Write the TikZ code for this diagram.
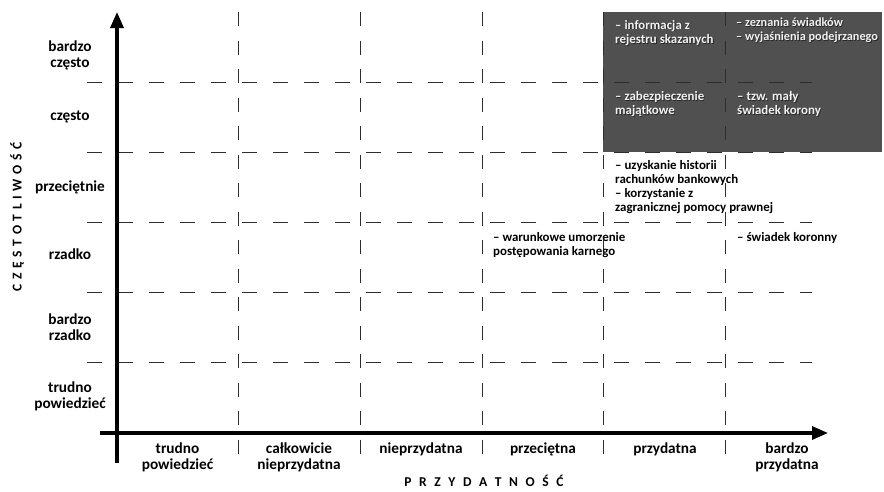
\documentclass[tikz,border=0pt]{standalone}
\usepackage{fontspec}
\setmainfont{Carlito}
\usetikzlibrary{arrows.meta}
\definecolor{darkbox}{RGB}{80,80,80}
\definecolor{gridc}{RGB}{45,45,45}
\definecolor{boxtext}{RGB}{242,242,242}
\newcommand{\lsX}{\hspace{7.6pt}}
\newcommand{\lsY}{\hspace{4.6pt}}
\newcommand{\linesL}[1]{\begin{tabular}[t]{@{}l@{}}#1\end{tabular}}
\newcommand{\linesC}[1]{\begin{tabular}[t]{@{}c@{}}#1\end{tabular}}
\begin{document}
\begin{tikzpicture}[x=1pt,y=-1pt,
  gridline/.style={draw=gridc, line width=0.95pt},
  hgrid/.style={gridline, dash pattern=on 15pt off 16pt},
  vgrid/.style={gridline, dash pattern=on 14pt off 14.5pt},
  axisline/.style={line width=3.2pt, -{Triangle[length=16pt,width=13pt]}},
  axlab/.style={font=\bfseries\fontsize{15.3}{16.8}\selectfont, inner sep=0pt, anchor=base},
  titlelab/.style={font=\bfseries\fontsize{13.5}{15}\selectfont, inner sep=0pt},
  itemtxt/.style={font=\bfseries\fontsize{12.9}{14.2}\selectfont, inner sep=0pt, anchor=base west},
  narrowtxt/.style={font=\bfseries\fontsize{12.3}{14}\selectfont},
  boxtxt/.style={itemtxt, text=boxtext},
  boxshadow/.style={itemtxt, text=black!85},
]
\useasboundingbox (0,0) rectangle (884,491);

% dark highlighted area
\fill[darkbox] (603,12) rectangle (882,151.5);

% grid coordinates
\foreach \y [count=\i] in {82,152,222,292,362} {
  \coordinate (hl\i) at (87,\y);
  \coordinate (hr\i) at (812,\y);
}
\foreach \x [count=\i] in {238.7,360.4,482.1,603.8,725.5} {
  \coordinate (vt\i) at (\x,12);
  \coordinate (vb\i) at (\x,454);
}
\foreach \i in {1,...,5} {
  \draw[hgrid] (hl\i) -- (hr\i);
  \draw[vgrid] (vt\i) -- (vb\i);
}

% axes
\coordinate (xs) at (100,433);
\coordinate (xe) at (828,433);
\coordinate (ys) at (117,463);
\coordinate (ye) at (117,12);
\draw[axisline] (xs) -- (xe);
\draw[axisline] (ys) -- (ye);

% row labels
\node[axlab] (r1) at (70,51) {\linesC{bardzo\\często}};
\node[axlab] (r2) at (70,120.5) {często};
\node[axlab] (r3) at (70,191) {przeciętnie};
\node[axlab] (r4) at (70,259.5) {rzadko};
\node[axlab] (r5) at (70,324) {\linesC{bardzo\\rzadko}};
\node[axlab] (r6) at (70,392) {\linesC{trudno\\powiedzieć}};

% column labels
\node[axlab] (c1) at (177.5,453) {\linesC{trudno\\powiedzieć}};
\node[axlab] (c2) at (299,453) {\linesC{całkowicie\\nieprzydatna}};
\node[axlab] (c3) at (421,453) {nieprzydatna};
\node[axlab] (c4) at (543,453) {przeciętna};
\node[axlab] (c5) at (665,453) {przydatna};
\node[axlab] (c6) at (787,453) {\linesC{bardzo\\przydatna}};

% axis titles
\node[titlelab, anchor=base] (xt) at (484,486) {P\lsX R\lsX Z\lsX Y\lsX D\lsX A\lsX T\lsX N\lsX O\lsX Ś\lsX Ć};
\node[titlelab, rotate=90, anchor=center] (yt) at (17,217) {C\lsY Z\lsY Ę\lsY S\lsY T\lsY O\lsY T\lsY L\lsY I\lsY W\lsY O\lsY Ś\lsY Ć};

% items in dark area (with shadow)
\node[boxshadow] (s1) at (615.8,29.8) {\linesL{– informacja z\\rejestru skazanych}};
\node[boxtxt] (t1) at (615,29) {\linesL{– informacja z\\rejestru skazanych}};
\node[boxshadow, narrowtxt] (s2) at (736.8,27.3) {\linesL{– zeznania świadków\\– wyjaśnienia podejrzanego}};
\node[boxtxt, narrowtxt] (t2) at (736,26.5) {\linesL{– zeznania świadków\\– wyjaśnienia podejrzanego}};
\node[boxshadow] (s3) at (615.8,101.3) {\linesL{– zabezpieczenie\\majątkowe}};
\node[boxtxt] (t3) at (615,100.5) {\linesL{– zabezpieczenie\\majątkowe}};
\node[boxshadow] (s4) at (737.8,101.3) {\linesL{– tzw. mały\\świadek korony}};
\node[boxtxt] (t4) at (737,100.5) {\linesL{– tzw. mały\\świadek korony}};

% other items
\node[itemtxt] (t5) at (615,169) {\linesL{– uzyskanie historii\\rachunków bankowych\\– korzystanie z\\zagranicznej pomocy prawnej}};
\node[itemtxt] (t6) at (493,241) {\linesL{– warunkowe umorzenie\\postępowania karnego}};
\node[itemtxt] (t7) at (737,241) {– świadek koronny};
\end{tikzpicture}
\end{document}
